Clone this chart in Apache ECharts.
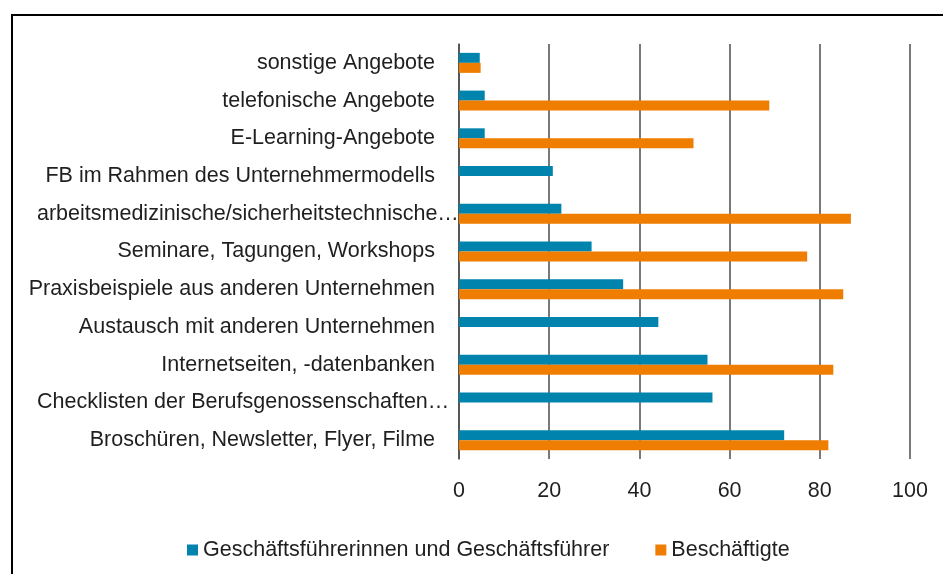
<!DOCTYPE html>
<html>
<head>
<meta charset="utf-8">
<script src="https://cdn.jsdelivr.net/npm/echarts@6/dist/echarts.min.js"></script>
<style>
  html, body { margin: 0; padding: 0; background: #fff; }
  #chart { width: 943px; height: 574px; }
</style>
</head>
<body>
<div id="chart"></div>
<script>
// Kategorien von unten nach oben (ECharts-Kategorieachse beginnt unten)
const categories = [
  'Broschüren, Newsletter, Flyer, Filme',
  'Checklisten der Berufsgenossenschaften…',
  'Internetseiten, -datenbanken',
  'Austausch mit anderen Unternehmen',
  'Praxisbeispiele aus anderen Unternehmen',
  'Seminare, Tagungen, Workshops',
  'arbeitsmedizinische/sicherheitstechnische…',
  'FB im Rahmen des Unternehmermodells',
  'E-Learning-Angebote',
  'telefonische Angebote',
  'sonstige Angebote'
];
const seriesNames = ['Geschäftsführerinnen und Geschäftsführer', 'Beschäftigte'];
const geschaeftsfuehrer = [72.1, 56.2, 55.1, 44.2, 36.4, 29.4, 22.7, 20.8, 5.7, 5.7, 4.6];
const beschaeftigte = [81.9, null, 83.0, null, 85.2, 77.2, 86.9, null, 52.0, 68.8, 4.8];
const xTicks = [0, 20, 40, 60, 80, 100];

const textColor = '#1f1f1f';
const font = 'Liberation Sans, Arial, sans-serif';
const fontSize = 21.5;

const chart = echarts.init(document.getElementById('chart'), null, { renderer: 'canvas' });

chart.setOption({
  animation: false,
  backgroundColor: '#fff',
  graphic: [{
    type: 'rect',
    shape: { x: 12, y: 15, width: 1000, height: 700 },
    style: { fill: 'none', stroke: '#000', lineWidth: 2 },
    silent: true
  }],
  grid: { left: 459, right: 33, top: 44, bottom: 115 },
  legend: {
    data: seriesNames,
    left: 182,
    top: 534,
    icon: 'rect',
    itemWidth: 11,
    itemHeight: 11,
    itemGap: 46,
    textStyle: { fontSize: fontSize, color: textColor, fontFamily: font }
  },
  xAxis: {
    type: 'value',
    min: xTicks[0],
    max: xTicks[xTicks.length - 1],
    interval: 20,
    axisLine: { show: false },
    axisTick: { show: false },
    axisLabel: { fontSize: fontSize, color: textColor, fontFamily: font, margin: 21 },
    splitLine: { show: true, lineStyle: { color: '#4d4d4d', width: 1.5 } }
  },
  yAxis: {
    type: 'category',
    data: categories,
    axisLine: { show: true, lineStyle: { color: '#4d4d4d', width: 1.5 } },
    axisTick: { show: false },
    axisLabel: {
      fontSize: fontSize,
      color: textColor,
      fontFamily: font,
      margin: 24,
      // abgeschnittene Beschriftungen reichen näher an die Achse heran
      formatter: v => v.endsWith('…') ? '{e|' + v + '}' : v,
      rich: {
        e: { width: 398, align: 'left', fontSize: fontSize, color: textColor, fontFamily: font }
      }
    }
  },
  series: [
    {
      name: seriesNames[0],
      type: 'bar',
      data: geschaeftsfuehrer,
      barWidth: 10,
      barGap: '0%',
      itemStyle: { color: '#0083ad' }
    },
    {
      name: seriesNames[1],
      type: 'bar',
      data: beschaeftigte,
      barWidth: 10,
      barGap: '0%',
      itemStyle: { color: '#ef7d00' }
    }
  ]
});
</script>
</body>
</html>
